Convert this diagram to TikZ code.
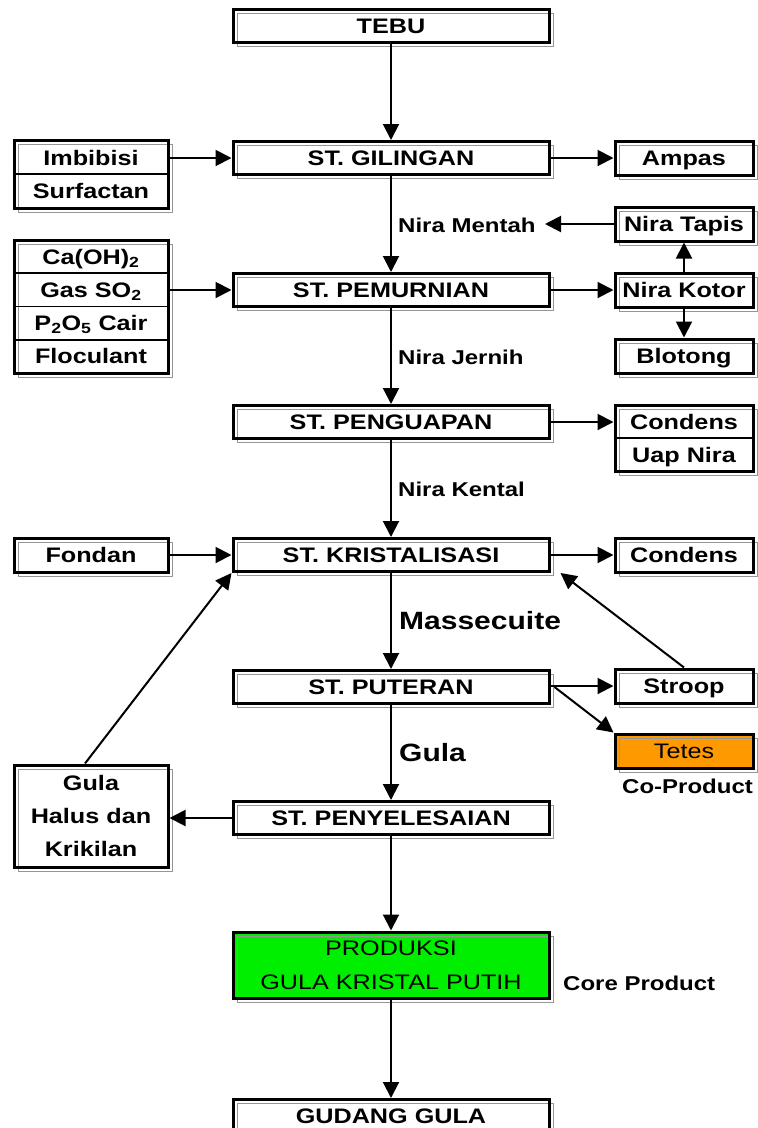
\documentclass[tikz,border=0pt]{standalone}
\usepackage{fontspec}
\setmainfont{Liberation Sans}[FakeStretch=1.2]
\usetikzlibrary{arrows.meta,calc}
\definecolor{prodgreen}{RGB}{0,238,0}
\definecolor{tetesorange}{RGB}{255,153,0}
\definecolor{shadowgray}{RGB}{150,150,150}
\tikzset{
  tc/.style={text height=15pt, text depth=0pt},
  bxs/.style={draw=black, line width=3pt, fill=white, inner sep=0pt, outer sep=1.5pt,
    font=\fontsize{21}{24}\selectfont\bfseries,
    postaction={draw=shadowgray, line width=1pt, transform canvas={shift={(4pt,-4pt)}}},
    postaction={draw=black, line width=3pt}},
  mainb/.style={bxs, tc, minimum width=316pt, minimum height=33pt},
  sideL/.style={bxs, tc, minimum width=154pt, minimum height=34pt},
  sideR/.style={bxs, tc, minimum width=138pt, minimum height=34pt},
  rowt/.style={inner sep=0pt, tc, font=\fontsize{21}{24}\selectfont\bfseries},
  lbl/.style={inner sep=0pt, tc, anchor=west, font=\fontsize{20}{24}\selectfont\bfseries},
  biglbl/.style={inner sep=0pt, anchor=west, text height=18pt, text depth=0pt, font=\fontsize{25}{30}\selectfont\bfseries},
  divl/.style={line width=1.6pt},
  arr/.style={line width=2pt, -{Triangle[length=16pt,width=16pt]}},
}
\begin{document}
\begin{tikzpicture}[x=1pt,y=-1pt]
\useasboundingbox (0,0) rectangle (758,1128);
% main column
\node[mainb] (tebu) at (391,25.5) {TEBU};
\node[mainb] (gil) at (391,158) {ST. GILINGAN};
\node[mainb] (pem) at (391,290) {ST. PEMURNIAN};
\node[mainb] (peng) at (391,422) {ST. PENGUAPAN};
\node[mainb] (kris) at (391,555) {ST. KRISTALISASI};
\node[mainb] (put) at (391,687) {ST. PUTERAN};
\node[mainb] (peny) at (391,818) {ST. PENYELESAIAN};
\node[bxs, minimum width=316pt, minimum height=66pt, fill=prodgreen, align=center,
      font=\fontsize{21}{34}\selectfont] (prod) at (391,965) {PRODUKSI\\GULA KRISTAL PUTIH};
\node[mainb] (gud) at (391,1116) {GUDANG GULA};
% left side
\node[bxs, minimum width=154pt, minimum height=68pt] (imb) at (91,174) {};
\draw[divl] (imb.west) -- (imb.east);
\node[rowt] (imb1) at (91,158) {Imbibisi};
\node[rowt] (imb2) at (91,191) {Surfactan};
\node[bxs, minimum width=154pt, minimum height=133pt] (ca) at (91,306.5) {};
\draw[divl] (ca.west |- 0,273) -- (ca.east |- 0,273);
\draw[divl] (ca.west) -- (ca.east);
\draw[divl] (ca.west |- 0,340) -- (ca.east |- 0,340);
\node[rowt] (ca1) at (91,257) {Ca(OH)\textsubscript{2}};
\node[rowt] (ca2) at (91,290) {Gas SO\textsubscript{2}};
\node[rowt] (ca3) at (91,323) {P\textsubscript{2}O\textsubscript{5} Cair};
\node[rowt] (ca4) at (91,356) {Floculant};
\node[sideL] (fond) at (91,555) {Fondan};
\node[bxs, minimum width=154pt, minimum height=102pt, align=center, font=\fontsize{21}{33}\selectfont\bfseries] (hal) at (91,816) {Gula\\Halus dan\\Krikilan};
% right side
\node[sideR] (amp) at (684,158) {Ampas};
\node[sideR] (tapis) at (684,224) {Nira Tapis};
\node[sideR] (kotor) at (684,290) {Nira Kotor};
\node[sideR] (blot) at (684,356) {Blotong};
\node[bxs, minimum width=138pt, minimum height=66pt] (cond) at (684,438) {};
\draw[divl] (cond.west) -- (cond.east);
\node[rowt] (cond1) at (684,422) {Condens};
\node[rowt] (cond2) at (684,455) {Uap Nira};
\node[sideR] (cond3) at (684,555) {Condens};
\node[sideR] (stroop) at (684,686) {Stroop};
\node[sideR, fill=tetesorange, font=\fontsize{21}{24}\selectfont] (tetes) at (684,751) {Tetes};
\node[lbl] (cop) at (622,786) {Co-Product};
\node[lbl] (core) at (563,983) {Core Product};
% labels on main column
\node[lbl] (nm) at (398,225) {Nira Mentah};
\node[lbl] (nj) at (398,357) {Nira Jernih};
\node[lbl] (nk) at (398,489) {Nira Kental};
\node[biglbl] (mass) at (399,620) {Massecuite};
\node[biglbl] (gl) at (399,752) {Gula};
% vertical connectors
\draw[arr] (tebu.south) -- (gil.north);
\draw[arr] (gil.south) -- (pem.north);
\draw[arr] (pem.south) -- (peng.north);
\draw[arr] (peng.south) -- (kris.north);
\draw[arr] (kris.south) -- (put.north);
\draw[arr] (put.south) -- (peny.north);
\draw[arr] (peny.south) -- (prod.north);
\draw[arr] (prod.south) -- (gud.north);
% horizontal connectors
\draw[arr] (imb.east |- gil.west) -- (gil.west);
\draw[arr] (gil.east) -- (amp.west);
\draw[arr] (ca.east |- pem.west) -- (pem.west);
\draw[arr] (pem.east) -- (kotor.west);
\coordinate (nmend) at (545,224);
\draw[arr] (tapis.west) -- (nmend);
\draw[arr] (kotor.north) -- (tapis.south);
\draw[arr] (kotor.south) -- (blot.north);
\draw[arr] (peng.east) -- (cond.west |- peng.east);
\draw[arr] (fond.east) -- (kris.west);
\draw[arr] (kris.east) -- (cond3.west);
\draw[arr] (put.east |- stroop.west) -- (stroop.west);
\draw[arr] ([xshift=4pt]put.east) -- (tetes.north west);
\draw[arr] (stroop.north) -- ([xshift=10pt]kris.south east);
\draw[arr] (peny.west) -- (hal.east |- peny.west);
\draw[arr] ([xshift=-6pt]hal.north) -- (kris.south west);
\end{tikzpicture}
\end{document}
